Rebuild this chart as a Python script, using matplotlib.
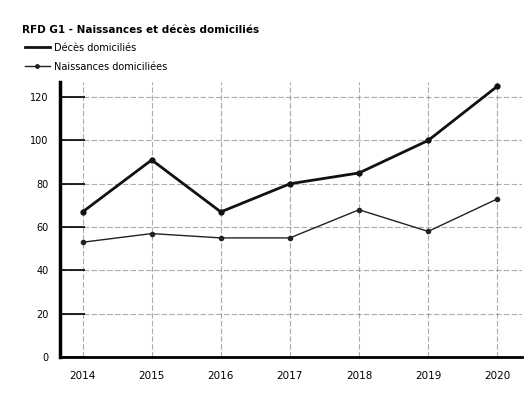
import matplotlib
matplotlib.use("Agg")
import matplotlib.pyplot as plt
from matplotlib.lines import Line2D

years = ["2014", "2015", "2016", "2017", "2018", "2019", "2020"]
deces = [67, 91, 67, 80, 85, 100, 125]
naissances = [53, 57, 55, 55, 68, 58, 73]
yticks = [0, 20, 40, 60, 80, 100, 120]

plt.rcParams['font.family'] = ['DejaVu Sans']

fig = plt.figure(figsize=(5.29, 4.0), dpi=100)
ax = fig.add_axes([0.113, 0.1075, 0.874, 0.6875])
x = list(range(len(years)))

ax.plot(x, deces, color="#111111", lw=2.0, marker="o", ms=3.5, zorder=3)
ax.plot(x, naissances, color="#222222", lw=1.0, marker="o", ms=3.0, zorder=3)

ax.set_xlim(-0.33, len(years) - 1 + 0.36)
ax.set_ylim(0, 127)
ax.set_yticks(yticks)
ax.set_xticks(x)
ax.set_xticklabels(years, fontsize=7.5)
ax.set_yticklabels([str(v) for v in yticks], fontsize=7)
ax.tick_params(axis='y', length=18, width=1.2, direction='in', pad=8)
ax.tick_params(axis='x', length=0, pad=10)

ax.grid(True, color="#777777", lw=0.8, ls=(0, (5, 2)), alpha=0.6)
ax.set_axisbelow(True)
for s in ["top", "right"]:
    ax.spines[s].set_visible(False)
ax.spines["left"].set_linewidth(2.5)
ax.spines["bottom"].set_linewidth(2.0)

fig.text(0.042, 0.925, "RFD G1 - Naissances et décès domiciliés",
         fontsize=7.5, fontweight="bold", va="center")

handles = [Line2D([], [], color="#111111", lw=2.0),
           Line2D([], [], color="#222222", lw=1.0, marker="o", ms=2.5)]
fig.legend(handles, ["Décès domiciliés", "Naissances domiciliées"],
           loc="upper left", bbox_to_anchor=(0.035, 0.91), frameon=False,
           fontsize=7, handlelength=2.5, handletextpad=0.4, labelspacing=0.9,
           borderpad=0.2)

fig.savefig("out.png", dpi=100)
